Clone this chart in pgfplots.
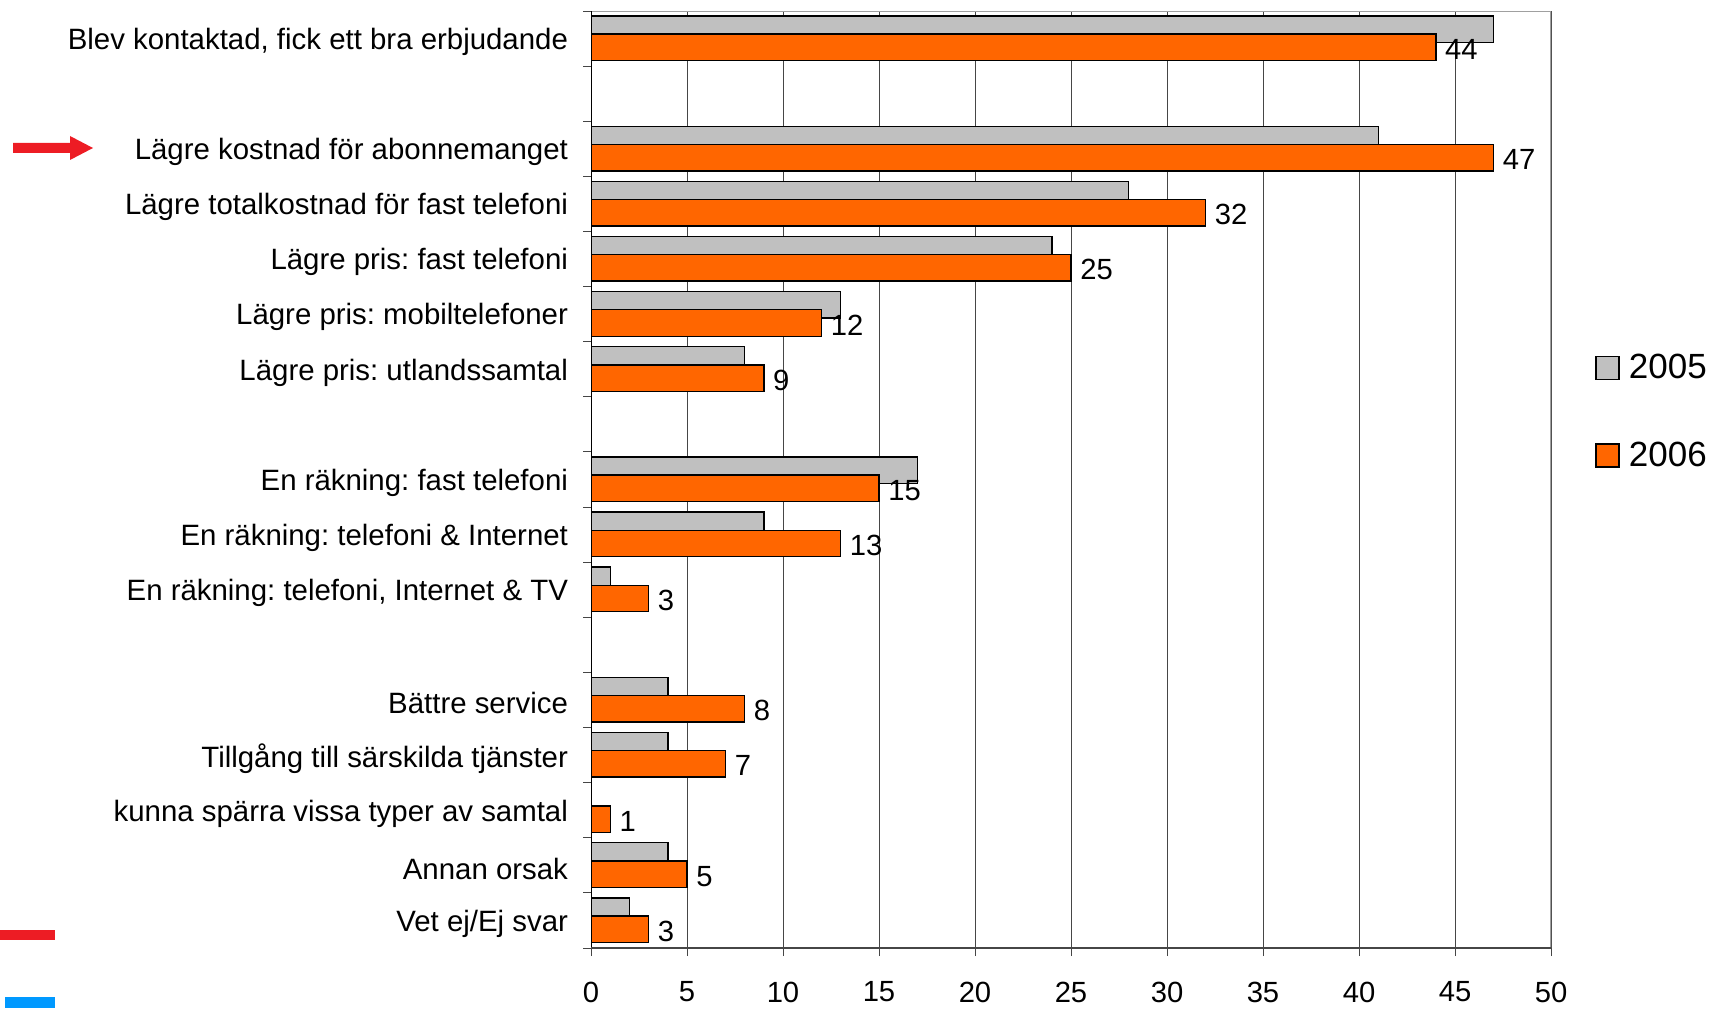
\documentclass[border=0pt]{standalone}
\usepackage{pgfplots}
\pgfplotsset{compat=1.18}
\usepackage{fontspec}
\setmainfont{Liberation Sans}
\frenchspacing

\definecolor{bargray}{RGB}{192,192,192}
\definecolor{barorange}{RGB}{255,102,0}
\definecolor{gridgray}{RGB}{70,70,70}
\definecolor{framegray}{RGB}{160,160,160}
\definecolor{markred}{RGB}{237,28,36}
\definecolor{markblue}{RGB}{0,153,255}

\begin{document}
\begin{tikzpicture}[x=1pt,y=1pt]
\useasboundingbox (0,0) rectangle (856.5,504);
\begin{axis}[
    at={(295.5pt,30pt)}, anchor=south west,
    width=480pt, height=468.5pt, scale only axis,
    xmin=0, xmax=50, ymin=-0.5, ymax=16.5,
    y dir=reverse,
    xbar, bar width=0.48,
    axis line style={draw=none},
    xmajorgrids=true,
    grid style={gridgray, line width=0.5pt},
    xtick={0,5,...,50},
    xtick pos=bottom, ytick pos=left,
    tick align=outside,
    major tick length=4pt,
    xtick style={gridgray, line width=0.5pt},
    ytick style={draw=none},
    ytick={0,2,3,4,5,6,8,9,10,12,13,14,15,16},
    yticklabels={
        {Blev kontaktad, fick ett bra erbjudande},
        {Lägre kostnad för abonnemanget},
        {Lägre totalkostnad för fast telefoni},
        {Lägre pris: fast telefoni},
        {Lägre pris: mobiltelefoner},
        {Lägre pris: utlandssamtal},
        {En räkning: fast telefoni},
        {En räkning: telefoni \& Internet},
        {En räkning: telefoni, Internet \& TV},
        {Bättre service},
        {Tillgång till särskilda tjänster},
        {kunna spärra vissa typer av samtal},
        {Annan orsak},
        {Vet ej/Ej svar}},
    extra y ticks={-0.5,0.5,...,16.5},
    extra y tick labels={},
    extra y tick style={ytick style={draw=gridgray, line width=0.5pt}},
    yticklabel style={font=\fontsize{14.7}{17}\selectfont, xshift=-4pt, yshift=-1.6pt},
    xticklabel style={font=\fontsize{14.6}{17}\selectfont, yshift=-9.3pt},
    /pgf/number format/assume math mode=true,
    legend style={draw=none, fill=none, at={(1.0458,0.5725)}, anchor=west,
        font=\fontsize{17.5}{20}\selectfont, row sep=26pt,
        inner sep=0pt, nodes={inner xsep=4.6pt}},
    legend cell align=left,
    legend image code/.code={\draw[#1, line width=0.7pt] (0pt,-5.75pt) rectangle (11.5pt,5.75pt);},
]
\addplot[fill=bargray, draw=black, line width=0.7pt, bar shift=-0.17]
    coordinates {(47,0) (41,2) (28,3) (24,4) (13,5) (8,6)
                 (17,8) (9,9) (1,10) (4,12) (4,13) (4,15) (2,16)};
\addlegendentry{2005}
\addplot[fill=barorange, draw=black, line width=0.7pt, bar shift=0.16,
    point meta=x, nodes near coords, nodes near coords align={horizontal},
    every node near coord/.append style={font=\fontsize{14.6}{17}\selectfont,
        text=black, xshift=1pt, yshift=-1pt}]
    coordinates {(44,0) (47,2) (32,3) (25,4) (12,5) (9,6)
                 (15,8) (13,9) (3,10) (8,12) (7,13) (1,14) (5,15) (3,16)};
\addlegendentry{2006}
\draw[framegray, line width=0.7pt] (axis cs:0,-0.5) -- (axis cs:50,-0.5) -- (axis cs:50,16.5);
\draw[black, line width=0.6pt] (axis cs:0,-0.5) -- (axis cs:0,16.5);
\draw[gridgray, line width=1.2pt] (axis cs:0,16.5) -- (axis cs:50,16.5);
\end{axis}
% decorations from the slide
\fill[markred] (6.5,427.5) -- (35,427.5) -- (35,424) -- (46.5,430) -- (35,436) -- (35,432.5) -- (6.5,432.5) -- cycle;
\fill[markred] (0,34) rectangle (27.5,39);
\fill[markblue] (2.5,0) rectangle (27.5,5.5);
\end{tikzpicture}
\end{document}
